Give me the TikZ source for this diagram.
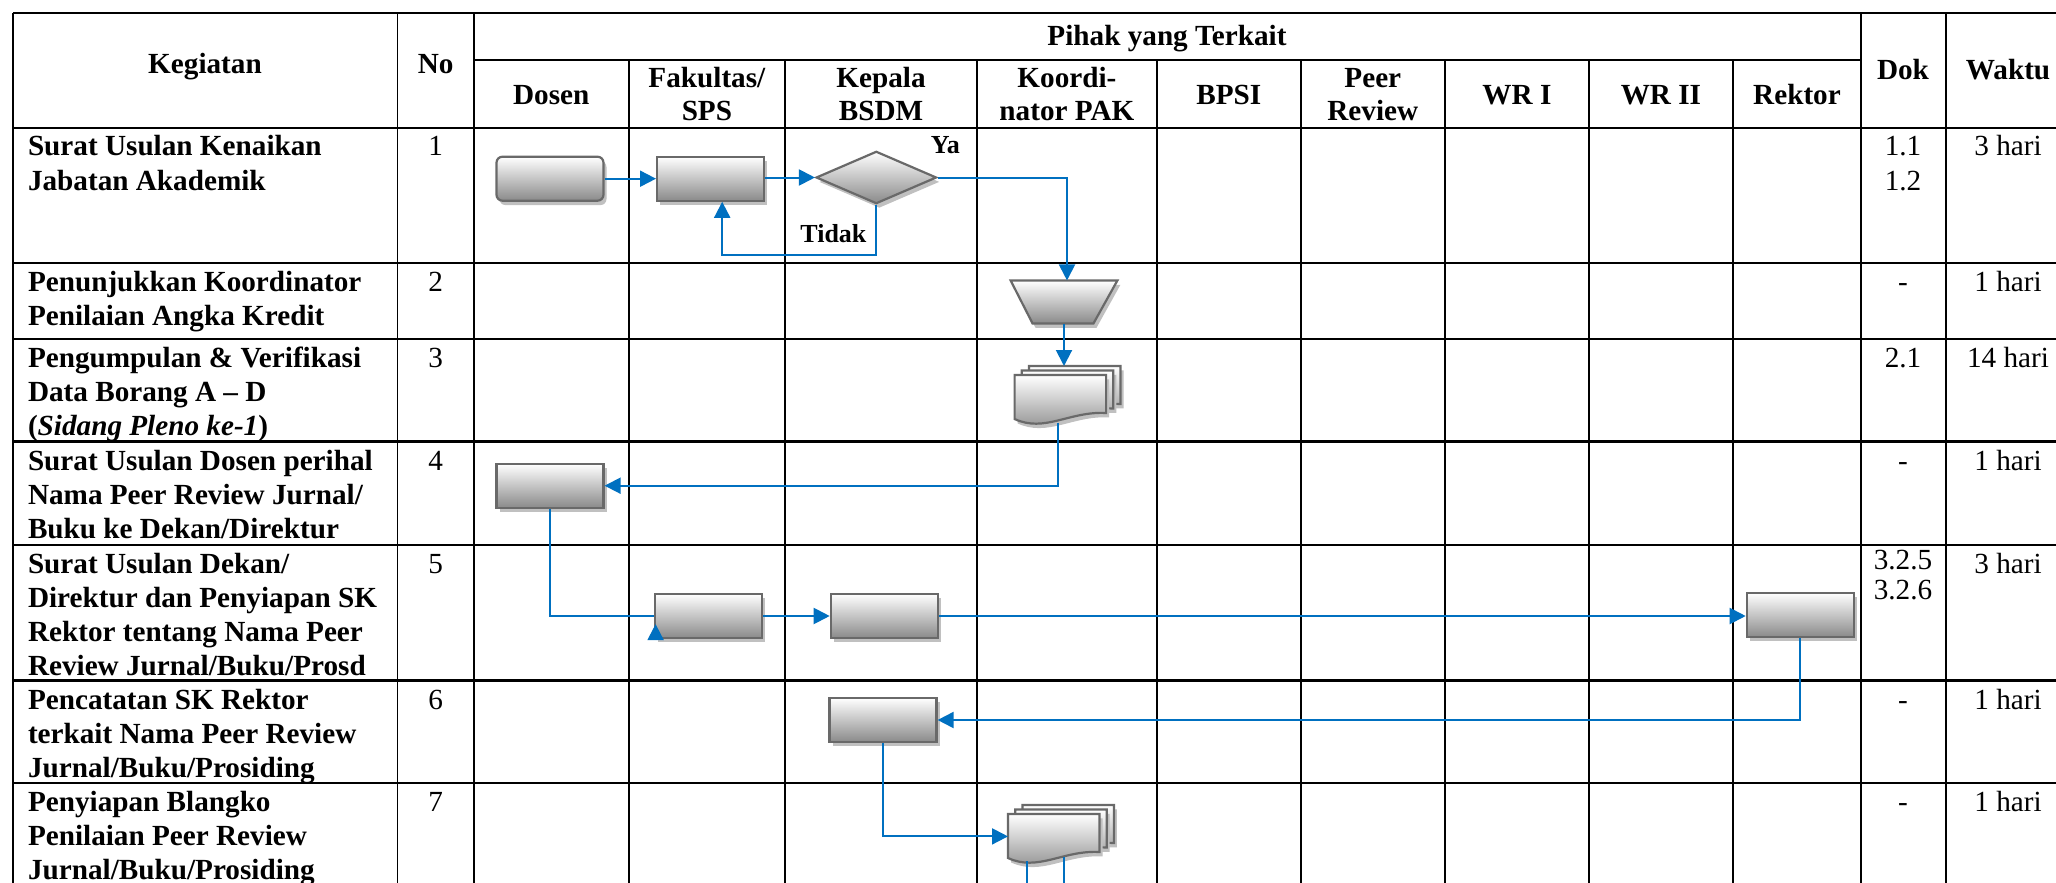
\documentclass[tikz,border=0pt]{standalone}
\usepackage{fontspec}
\setmainfont{Liberation Serif}
\usetikzlibrary{shapes.geometric,shadows,arrows.meta,calc}

\definecolor{flowblue}{RGB}{0,112,192}
\definecolor{shapeedge}{RGB}{105,105,105}
\definecolor{shapedark}{RGB}{138,138,138}
\definecolor{shadowgray}{RGB}{192,192,192}

% multi-line nodes below are placed by the baseline of their last line
\tikzset{
  grid/.style={line width=0.95pt, black},
  gridthick/.style={line width=1.3pt, black},
  shadowed/.style={drop shadow={shadow xshift=1.5pt, shadow yshift=-2.2pt, fill=shadowgray, opacity=1}},
  shaded/.style={draw=shapeedge, line width=1.1pt, top color=white, bottom color=shapedark},
  proc/.style={shaded, shadowed, rectangle, minimum width=53.5pt, minimum height=22pt, inner sep=0pt},
  flow/.style={draw=flowblue, line width=1pt, -{Triangle[length=8pt,width=8pt]}},
  flowline/.style={draw=flowblue, line width=1pt},
  body/.style={font=\fontsize{14.6}{17}\selectfont\bfseries, align=left, anchor=base west, inner sep=0pt},
  num/.style={font=\fontsize{14.6}{17}\selectfont, align=center, anchor=base, inner sep=0pt},
  head/.style={font=\fontsize{14.6}{16.7}\selectfont\bfseries, align=center, anchor=base, inner sep=0pt},
  lbl/.style={font=\fontsize{13}{15}\selectfont\bfseries, inner sep=0pt},
  docsheet/.style={shaded, shadowed, line width=1.1pt},
  pics/multidoc/.style={code={
    \foreach \dx/\dy in {14.4/-9, 7.2/-4.5, 0/0}{
      \begin{scope}[shift={(\dx,\dy)}]
        \path[docsheet] (0,0) -- (91.5,0) -- (91.5,38)
          .. controls (55,36) and (30,58) .. (0,44) -- cycle;
      \end{scope}
    }
  }},
}

\begin{document}
\begin{tikzpicture}[x=0.5pt, y=-0.5pt]
\useasboundingbox (0,0) rectangle (2056,883);
\fill[white] (0,0) rectangle (2056,883);

% ---- table grid ----
\draw[grid] (13,12.7) -- (2070,12.7);
\draw[grid] (473.7,60) -- (1861,60);
\foreach \y in {128.3,263.3,339.3,545,783.3}
  \draw[grid] (13,\y) -- (2070,\y);
\foreach \y in {441.7,680.7}
  \draw[gridthick] (13,\y) -- (2070,\y);
\foreach \x in {13,397.5,473.7,1861,1945.7,2070}
  \draw[grid] (\x,12.7) -- (\x,890);
\foreach \x in {628.8,785,977,1156.7,1300.8,1444.8,1588.9,1732.9}
  \draw[grid] (\x,60) -- (\x,890);

% ---- header ----
\node[head] (hKeg) at (205,74) {Kegiatan};
\node[head] (hNo) at (435.6,74) {No};
\node[head] (hPihak) at (1167,45.7) {Pihak yang Terkait};
\node[head] (hDosen) at (551.2,104.3) {Dosen};
\node[head] (hFak) at (706.9,120.7) {Fakultas/\\SPS};
\node[head] (hKep) at (881,120.7) {Kepala\\BSDM};
\node[head] (hKoor) at (1066.9,120.7) {Koordi-\\nator PAK};
\node[head] (hBPSI) at (1228.8,104.3) {BPSI};
\node[head] (hPeer) at (1372.8,120.7) {Peer\\Review};
\node[head] (hWR1) at (1516.9,104.3) {WR I};
\node[head] (hWR2) at (1660.9,104.3) {WR II};
\node[head] (hRek) at (1797,104.3) {Rektor};
\node[head] (hDok) at (1903,80) {Dok};
\node[head] (hWaktu) at (2008,80) {Waktu};

% ---- activity column ----
\node[body] (tK1) at (27.6,190.5) {Surat Usulan Kenaikan\\[0.5pt]Jabatan Akademik};
\node[body] (tK2) at (27.6,325.8) {Penunjukkan Koordinator\\Penilaian Angka Kredit};
\node[body] (tK3) at (27.6,435.8) {Pengumpulan \& Verifikasi\\Data Borang A -- D\\(\textit{Sidang Pleno ke-1})};
\node[body] (tK4) at (27.6,538.2) {Surat Usulan Dosen perihal\\Nama Peer Review Jurnal/\\Buku ke Dekan/Direktur};
\node[body] (tK5) at (27.6,675.5) {Surat Usulan Dekan/\\Direktur dan Penyiapan SK\\Rektor tentang Nama Peer\\Review Jurnal/Buku/Prosd};
\node[body] (tK6) at (27.6,777.2) {Pencatatan SK Rektor\\terkait Nama Peer Review\\Jurnal/Buku/Prosiding};
\node[body] (tK7) at (27.6,879.8) {Penyiapan Blangko\\Penilaian Peer Review\\Jurnal/Buku/Prosiding};

% ---- numbers ----
\node[num] (tN1) at (435.6,155.5) {1};
\node[num] (tN2) at (435.6,291.8) {2};
\node[num] (tN3) at (435.6,367.8) {3};
\node[num] (tN4) at (435.6,470.2) {4};
\node[num] (tN5) at (435.6,573.5) {5};
\node[num] (tN6) at (435.6,709.2) {6};
\node[num] (tN7) at (435.6,811.8) {7};

% ---- documents ----
\node[num] (tD1) at (1903,190.5) {1.1\\[0.5pt]1.2};
\node[num] (tD2) at (1903,291.8) {-};
\node[num] (tD3) at (1903,367.8) {2.1};
\node[num] (tD4) at (1903,470.2) {-};
\node[num, font=\fontsize{14.6}{15}\selectfont] (tD5) at (1903,599.3) {3.2.5\\3.2.6};
\node[num] (tD6) at (1903,709.2) {-};
\node[num] (tD7) at (1903,811.8) {-};

% ---- durations ----
\node[num] (tW1) at (2008,155.5) {3 hari};
\node[num] (tW2) at (2008,291.8) {1 hari};
\node[num] (tW3) at (2008,367.8) {14 hari};
\node[num] (tW4) at (2008,470.2) {1 hari};
\node[num] (tW5) at (2008,573.5) {3 hari};
\node[num] (tW6) at (2008,709.2) {1 hari};
\node[num] (tW7) at (2008,811.8) {1 hari};

% ---- flow shapes ----
\node[proc, rounded corners=3pt] (sDos1) at (550,178.7) {};
\node[proc] (sFak1) at (710.6,178.7) {};
\node[diamond, shaded, shadowed, minimum width=60.25pt, minimum height=26.2pt, inner sep=0pt] (sDia) at (876.3,177.5) {};

% manual operation (trapezoid, wide side on top)
\node[rectangle, minimum width=53pt, minimum height=21.15pt, inner sep=0pt] (sMan) at (1064,302) {};
\path[shaded, shadowed] (sMan.north west) -- (sMan.north east)
  -- ($(sMan.south east)+(-24,0)$) -- ($(sMan.south west)+(22,0)$) -- cycle;

\coordinate (doc1tl) at (1014.6,375);
\pic at (doc1tl) {multidoc};
\node[anchor=north west, minimum width=45.75pt, minimum height=22pt, inner sep=0pt] (sDoc1) at (doc1tl) {};
\coordinate (doc1top) at ($(doc1tl)+(14.4,-9)$);
\coordinate (doc1out) at ($(doc1tl)+(43.8,47.5)$);

\node[proc] (sDos2) at (550,485.7) {};
\node[proc] (sFak2) at (708.7,616) {};
\node[proc] (sKep2) at (884.3,616) {};
\node[proc] (sRek) at (1800.3,615) {};
\node[proc] (sKep3) at (883,720) {};

\coordinate (doc2tl) at (1008,814);
\pic at (doc2tl) {multidoc};
\node[anchor=north west, minimum width=45.75pt, minimum height=22pt, inner sep=0pt] (sDoc2) at (doc2tl) {};
\coordinate (doc2outA) at ($(doc2tl)+(18.7,47)$);
\coordinate (doc2outB) at ($(doc2tl)+(55.8,43)$);
\coordinate (endA) at (1026.7,900);
\coordinate (endB) at (1063.8,900);

% ---- labels ----
\node[lbl] (lYa) at (945.4,145) {Ya};
\node[lbl] (lTidak) at (833.4,234) {Tidak};

% ---- connectors ----
\draw[flow] (sDos1) -- (sFak1);
\draw[flow] (sFak1.east |- sDia) -- (sDia.west);
\draw[flow] (sDia.east) -| ($(sMan.north)+(3,0)$);
\draw[flow] (sDia.south) -- ++(0,50.3) -| ($(sFak1.south)+(11.6,0)$);
\draw[flow] (sMan.south) -- (sMan.south |- doc1top);
\draw[flow] (doc1out) |- (sDos2.east);
\draw[flowline] (sDos2.south) |- (sFak2.west);
\draw[flow] ($(sFak2.south west)+(1.5,0)$) -- ++(0,-15);
\draw[flow] (sFak2) -- (sKep2);
\draw[flow] (sKep2.east) -- (sKep2.east -| sRek.west);
\draw[flow] (sRek.south) |- (sKep3.east);
\draw[flow] (sKep3.south) |- (sDoc2.west);
\draw[flowline] (doc2outA) -- (endA);
\draw[flowline] (doc2outB) -- (endB);
\end{tikzpicture}
\end{document}
